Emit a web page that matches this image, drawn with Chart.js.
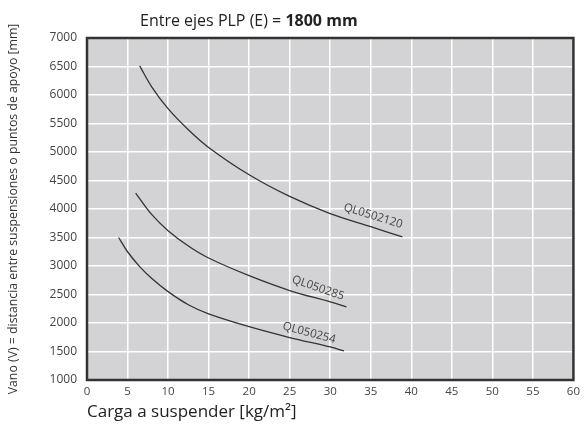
<!DOCTYPE html>
<html>
<head>
<meta charset="utf-8">
<script src="https://cdn.jsdelivr.net/npm/chart.js@4"></script>
<style>
  html, body { margin: 0; padding: 0; background: #fff; }
  #wrap { width: 585px; height: 430px; }
</style>
</head>
<body>
<div id="wrap"><canvas id="spanChart" width="585" height="430"></canvas></div>
<script>
// load (kg/m²) vs. span (mm) for each profile
const load120 = [6.5, 8, 10, 12.5, 15, 20, 25, 30, 35, 38.9];
const span120 = [6510, 6140, 5760, 5390, 5080, 4600, 4220, 3920, 3690, 3510];

const load285 = [6, 8, 10, 12.5, 15, 20, 25, 30, 32];
const span285 = [4280, 3900, 3620, 3350, 3140, 2830, 2570, 2370, 2285];

const load254 = [3.9, 5, 6.5, 8, 10, 12.5, 15, 20, 25, 30, 31.7];
const span254 = [3500, 3250, 2990, 2780, 2550, 2320, 2160, 1935, 1745, 1580, 1510];

const seriesNames = ["QL0502120", "QL050285", "QL050254"];

// where each curve name sits (data units) and its tilt
const labelLoad = [35.3, 28.5, 27.4];
const labelSpan = [3877, 2614, 1825];
const labelAngle = [17, 19, 15];

const xTicks = [0, 5, 10, 15, 20, 25, 30, 35, 40, 45, 50, 55, 60];
const yTicks = [1000, 1500, 2000, 2500, 3000, 3500, 4000, 4500, 5000, 5500, 6000, 6500, 7000];

const FONT = "'Open Sans', 'Noto Sans', sans-serif";
const INK = "#333";

const pts = (xs, ys) => xs.map((x, i) => ({ x: x, y: ys[i] }));

const plotFrame = {
  id: "plotFrame",
  beforeDraw(chart) {
    const { ctx, chartArea: a } = chart;
    ctx.save();
    ctx.fillStyle = "#d3d3d5";
    ctx.fillRect(a.left, a.top, a.right - a.left, a.bottom - a.top);
    ctx.restore();
  },
  afterDatasetsDraw(chart) {
    const { ctx, chartArea: a, scales } = chart;
    ctx.save();
    ctx.strokeStyle = INK;
    ctx.lineWidth = 2.5;
    ctx.strokeRect(a.left, a.top, a.right - a.left, a.bottom - a.top);

    // curve names along the lines
    ctx.fillStyle = "#444";
    ctx.font = "11.5px " + FONT;
    ctx.textAlign = "center";
    ctx.textBaseline = "middle";
    seriesNames.forEach((name, i) => {
      const px = scales.x.getPixelForValue(labelLoad[i]);
      const py = scales.y.getPixelForValue(labelSpan[i]);
      ctx.save();
      ctx.translate(px, py);
      ctx.rotate(labelAngle[i] * Math.PI / 180);
      ctx.fillText(name, 0, 0);
      ctx.restore();
    });

    // heading with the bold distance
    ctx.textAlign = "left";
    ctx.textBaseline = "alphabetic";
    ctx.fillStyle = "#222";
    ctx.font = "16px " + FONT;
    const head = "Entre ejes PLP (E) = ";
    ctx.fillText(head, 140, 26);
    const w = ctx.measureText(head).width;
    ctx.font = "bold 16px " + FONT;
    ctx.fillText("1800 mm", 140 + w, 26);
    ctx.restore();
  }
};

const lineStyle = {
  borderColor: INK,
  borderWidth: 1.3,
  pointRadius: 0,
  fill: false,
  tension: 0.35
};

new Chart(document.getElementById("spanChart"), {
  type: "line",
  data: {
    datasets: [
      { label: seriesNames[0], data: pts(load120, span120), ...lineStyle },
      { label: seriesNames[1], data: pts(load285, span285), ...lineStyle },
      { label: seriesNames[2], data: pts(load254, span254), ...lineStyle }
    ]
  },
  options: {
    responsive: false,
    animation: false,
    layout: { padding: { top: 38, right: 10, left: 0, bottom: 8 } },
    plugins: { legend: { display: false }, tooltip: { enabled: false } },
    scales: {
      x: {
        type: "linear",
        min: 0,
        max: 60,
        afterBuildTicks: (s) => { s.ticks = xTicks.map(v => ({ value: v })); },
        afterFit: (s) => { s.height = 42; },
        grid: { color: "#fff", lineWidth: 1.5, drawTicks: false },
        border: { display: false },
        ticks: { color: "#444", font: { family: FONT, size: 11.5 }, padding: 5, maxRotation: 0 },
        title: {
          display: true,
          text: "Carga a suspender [kg/m²]",
          align: "start",
          color: "#222",
          font: { family: FONT, size: 17 },
          padding: { top: 0, bottom: 0 }
        }
      },
      y: {
        type: "linear",
        min: 1000,
        max: 7000,
        afterBuildTicks: (s) => { s.ticks = yTicks.map(v => ({ value: v })); },
        afterFit: (s) => { s.width = 87; },
        grid: { color: "#fff", lineWidth: 1.5, drawTicks: false },
        border: { display: false },
        ticks: {
          color: "#444",
          font: { family: FONT, size: 12 },
          padding: 10,
          callback: (v) => String(v)
        },
        title: {
          display: true,
          text: "Vano (V) = distancia entre suspensiones o puntos de apoyo [mm]",
          color: "#333",
          font: { family: FONT, size: 12.3 },
          padding: { top: 6, bottom: 0 }
        }
      }
    }
  },
  plugins: [plotFrame]
});
</script>
</body>
</html>
